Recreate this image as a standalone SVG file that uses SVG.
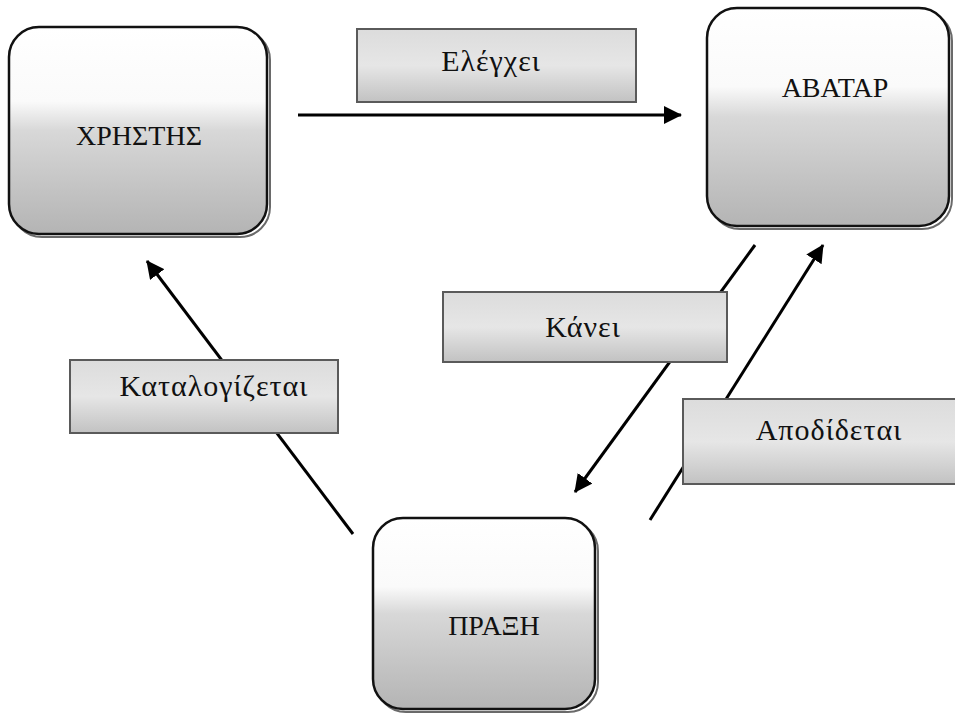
<svg xmlns="http://www.w3.org/2000/svg" width="955" height="727" viewBox="0 0 955 727">
  <defs>
    <linearGradient id="nodeFill" x1="0" y1="0" x2="0" y2="1">
      <stop offset="0" stop-color="#ffffff"/>
      <stop offset="0.36" stop-color="#fafafa"/>
      <stop offset="0.5" stop-color="#d8d8d8"/>
      <stop offset="0.8" stop-color="#c2c2c2"/>
      <stop offset="1" stop-color="#b4b4b4"/>
    </linearGradient>
    <linearGradient id="labelFill" x1="0" y1="0" x2="0" y2="1">
      <stop offset="0" stop-color="#dcdcdc"/>
      <stop offset="0.5" stop-color="#e6e6e6"/>
      <stop offset="1" stop-color="#c2c2c2"/>
    </linearGradient>
    <marker id="arrowHead" markerUnits="userSpaceOnUse" markerWidth="18" markerHeight="18" viewBox="0 0 18 18" refX="17" refY="9" orient="auto">
      <path d="M0,0 L18,9 L0,18 z" fill="#000"/>
    </marker>
  </defs>
  <style>
    .node-shadow { fill: none; stroke: #6a6a6a; stroke-width: 2; }
    .node-box { fill: url(#nodeFill); stroke: #111; stroke-width: 2.5; }
    .label-box { fill: url(#labelFill); stroke: #5a5a5a; stroke-width: 2; }
    .edge { fill: none; stroke: #000; stroke-width: 3; marker-end: url(#arrowHead); }
    text { font-family: "Liberation Serif", "Times New Roman", serif; fill: #111; text-anchor: middle; }
    .node-text { font-size: 28px; }
    .label-text { font-size: 30px; letter-spacing: 1px; }
  </style>

  <rect x="0" y="0" width="955" height="727" fill="#ffffff"/>

  <!-- connectors -->
  <g id="connectors">
    <line class="edge" x1="298" y1="115" x2="681" y2="115"/>
    <line class="edge" x1="353" y1="534" x2="147" y2="261"/>
    <line class="edge" x1="755" y1="245" x2="575" y2="492"/>
    <line class="edge" x1="650" y1="520" x2="823" y2="245"/>
  </g>

  <!-- edge labels sit on top of the lines -->
  <g id="label-elegxei">
    <rect class="label-box" x="357" y="29" width="279" height="73"/>
    <text class="label-text" x="491" y="71">Ελέγχει</text>
  </g>
  <g id="label-kanei">
    <rect class="label-box" x="443" y="292" width="284" height="70"/>
    <text class="label-text" x="583" y="337">Κάνει</text>
  </g>
  <g id="label-katalogizetai">
    <rect class="label-box" x="70" y="360" width="268" height="73"/>
    <text class="label-text" x="214" y="396">Καταλογίζεται</text>
  </g>
  <g id="label-apodidetai">
    <rect class="label-box" x="683" y="399" width="280" height="85"/>
    <text class="label-text" x="829" y="440">Αποδίδεται</text>
  </g>

  <!-- nodes -->
  <g id="node-xristis">
    <rect class="node-shadow" x="12" y="30" width="258" height="207" rx="30"/>
    <rect class="node-box" x="9" y="27" width="258" height="207" rx="30"/>
    <text class="node-text" x="139" y="145">ΧΡΗΣΤΗΣ</text>
  </g>
  <g id="node-avatar">
    <rect class="node-shadow" x="710" y="11" width="242" height="218" rx="30"/>
    <rect class="node-box" x="707" y="8" width="242" height="218" rx="30"/>
    <text class="node-text" x="835" y="97">ΑΒΑΤΑΡ</text>
  </g>
  <g id="node-praxi">
    <rect class="node-shadow" x="376" y="521" width="222" height="191" rx="30"/>
    <rect class="node-box" x="373" y="518" width="222" height="191" rx="30"/>
    <text class="node-text" x="494" y="635">ΠΡΑΞΗ</text>
  </g>
</svg>
